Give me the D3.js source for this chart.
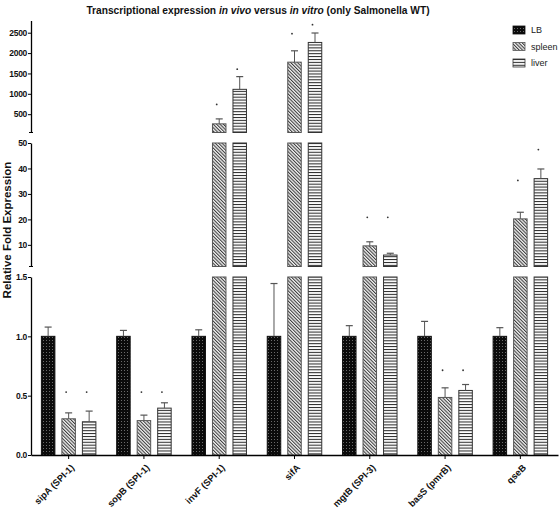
<!DOCTYPE html>
<html>
<head>
<meta charset="utf-8">
<script src="https://cdn.jsdelivr.net/npm/d3@7"></script>
<style>
  html, body { margin: 0; padding: 0; background: #fff; }
  svg { display: block; }
  text { font-family: "Liberation Sans", Arial, sans-serif; }
</style>
</head>
<body>
<svg id="chart" width="560" height="508"></svg>
<script>
// ---- data ----
const categories = ["sipA (SPI-1)", "sopB (SPI-1)", "invF (SPI-1)", "sifA", "mgtB (SPI-3)", "basS (pmrB)", "qseB"];
const seriesNames = ["LB", "spleen", "liver"];
const lbMean    = [1.0, 1.0, 1.0, 1.0, 1.0, 1.0, 1.0];
const lbErr     = [0.078, 0.05, 0.055, 0.445, 0.09, 0.126, 0.073];
const spleenMean = [0.305, 0.29, 262, 1777, 9.6, 0.485, 20.2];
const spleenErr  = [0.05, 0.046, 122, 279, 1.6, 0.081, 2.6];
const liverMean  = [0.28, 0.395, 1110, 2261, 6.0, 0.544, 36.0];
const liverErr   = [0.09, 0.045, 312, 232, 0.7, 0.05, 3.8];
// asterisk levels (data units) for spleen and liver
const spleenStar = [0.53, 0.53, 740, 2476, 20.8, 0.714, 35.3];
const liverStar  = [0.53, 0.53, 1604, 2698, 20.8, 0.714, 47.4];
const tickTop    = [500, 1000, 1500, 2000, 2500];
const tickMid    = [10, 20, 30, 40, 50];
const tickBottom = [0, 0.5, 1.0, 1.5];

// ---- layout ----
const svg = d3.select("#chart");
const defs = svg.append("defs");

// patterns
const pLB = defs.append("pattern").attr("id", "pLB").attr("patternUnits", "userSpaceOnUse").attr("width", 3).attr("height", 3);
pLB.append("rect").attr("width", 3).attr("height", 3).attr("fill", "#0b0b0b");
pLB.append("rect").attr("x", 1).attr("y", 1).attr("width", 1).attr("height", 1).attr("fill", "#6a6a6a");

const pSp = defs.append("pattern").attr("id", "pSpleen").attr("patternUnits", "userSpaceOnUse")
  .attr("width", 2.4).attr("height", 4).attr("patternTransform", "rotate(-45)");
pSp.append("rect").attr("width", 2.4).attr("height", 4).attr("fill", "#f2f2f2");
pSp.append("rect").attr("x", 0).attr("y", 0).attr("width", 1.05).attr("height", 4).attr("fill", "#3c3c3c");

const pLv = defs.append("pattern").attr("id", "pLiver").attr("patternUnits", "userSpaceOnUse").attr("width", 4).attr("height", 2.9);
pLv.append("rect").attr("width", 4).attr("height", 2.9).attr("fill", "#fff");
pLv.append("rect").attr("x", 0).attr("y", 1).attr("width", 4).attr("height", 1).attr("fill", "#222");

const fills = { LB: "url(#pLB)", spleen: "url(#pSpleen)", liver: "url(#pLiver)" };
const strokes = { LB: "#111", spleen: "#555", liver: "#333" };

// scales: broken y-axis in three segments
const segments = [
  { name: "top",    scale: d3.scaleLinear().domain([50, 2800]).range([132.5, 20.5]), ticks: tickTop, fmt: d3.format("d") },
  { name: "mid",    scale: d3.scaleLinear().domain([1.5, 50]).range([266.5, 143]), ticks: tickMid, fmt: d3.format("d") },
  { name: "bottom", scale: d3.scaleLinear().domain([0, 1.5]).range([455, 277]), ticks: tickBottom, fmt: d3.format(".1f") }
];
function segFor(v) {
  if (v > 50) return segments[0];
  if (v > 1.5) return segments[1];
  return segments[2];
}

const axisX = 31;
const x0 = d3.scaleBand().domain(categories).range([axisX, 558]).paddingInner(0).paddingOuter(0);
const x1 = d3.scaleBand().domain(seriesNames).range([-27.75, 27.75]).paddingInner(0.293).paddingOuter(0);

const data = categories.map((c, i) => ({
  cat: c,
  bars: [
    { s: "LB", v: lbMean[i], e: lbErr[i], star: null },
    { s: "spleen", v: spleenMean[i], e: spleenErr[i], star: spleenStar[i] },
    { s: "liver", v: liverMean[i], e: liverErr[i], star: liverStar[i] }
  ]
}));

// ---- bars ----
const gBars = svg.append("g");
data.forEach(d => {
  const cx = x0(d.cat) + x0.bandwidth() / 2;
  d.bars.forEach(b => {
    const bx = cx + x1(b.s);
    const bw = x1.bandwidth();
    segments.forEach(seg => {
      const [lo, hi] = seg.scale.domain();
      if (b.v > lo) {
        const yTop = seg.scale(Math.min(b.v, hi));
        const yBot = seg.scale(lo);
        gBars.append("rect")
          .attr("x", bx + 0.5).attr("y", yTop)
          .attr("width", bw - 1).attr("height", yBot - yTop)
          .attr("fill", fills[b.s]).attr("stroke", strokes[b.s]).attr("stroke-width", 1);
      }
    });
    // error bar (upper only)
    const seg = segFor(b.v);
    const top = b.v + b.e;
    const yv = seg.scale(b.v), ye = seg.scale(top);
    const ecx = bx + bw / 2;
    gBars.append("line").attr("x1", ecx).attr("x2", ecx).attr("y1", yv).attr("y2", ye)
      .attr("stroke", "#555").attr("stroke-width", 1);
    gBars.append("line").attr("x1", ecx - 3.5).attr("x2", ecx + 3.5).attr("y1", ye).attr("y2", ye)
      .attr("stroke", "#555").attr("stroke-width", 1.2);
    // asterisk
    if (b.star != null) {
      const sseg = segFor(b.star);
      gBars.append("circle").attr("cx", ecx - 2.5).attr("cy", sseg.scale(b.star)).attr("r", 0.9).attr("fill", "#333");
    }
  });
});

// ---- y axes ----
segments.forEach(seg => {
  const g = svg.append("g").attr("transform", `translate(${axisX},0)`)
    .call(d3.axisLeft(seg.scale).tickValues(seg.ticks).tickFormat(seg.fmt).tickSize(3).tickSizeOuter(0).tickPadding(1));
  g.select(".domain").attr("stroke", "#000").attr("stroke-width", 1.3);
  g.selectAll(".tick line").attr("stroke", "#000").attr("stroke-width", 1);
  g.selectAll(".tick text").attr("font-size", 8.5).attr("font-weight", "bold").attr("fill", "#111")
    .attr("letter-spacing", -0.3);
  const lo = seg.scale.domain()[0];
  if (seg.name !== "bottom") {
    g.append("line").attr("x1", -2).attr("x2", 2).attr("y1", seg.scale(lo)).attr("y2", seg.scale(lo))
      .attr("stroke", "#000").attr("stroke-width", 1);
  }
});

// ---- x axis ----
const gx = svg.append("g").attr("transform", "translate(0,455)")
  .call(d3.axisBottom(x0).tickSize(4).tickSizeOuter(0));
gx.select(".domain").attr("stroke", "#000").attr("stroke-width", 1.3);
gx.selectAll(".tick line").attr("stroke", "#000");
gx.selectAll(".tick text")
  .attr("font-size", 9.3).attr("font-weight", "bold").attr("fill", "#111")
  .attr("text-anchor", "end")
  .attr("transform", "translate(4,11) rotate(-45)")
  .attr("dy", "0.35em").attr("y", 0).attr("x", 0);

// ---- y label ----
svg.append("text")
  .attr("transform", "translate(11,230) rotate(-90)")
  .attr("text-anchor", "middle")
  .attr("font-size", 11.5).attr("font-weight", "bold").attr("fill", "#111")
  .text("Relative Fold Expression");

// ---- title ----
const title = svg.append("text").attr("x", 258).attr("y", 14).attr("text-anchor", "middle")
  .attr("font-size", 10.2).attr("font-weight", "bold").attr("fill", "#111");
title.append("tspan").text("Transcriptional expression ");
title.append("tspan").attr("font-style", "italic").text("in vivo");
title.append("tspan").text(" versus ");
title.append("tspan").attr("font-style", "italic").text("in vitro");
title.append("tspan").text(" (only Salmonella WT)");

// ---- legend ----
const legend = svg.append("g");
seriesNames.forEach((s, i) => {
  const y = 30 + i * 16.5;
  legend.append("rect").attr("x", 513).attr("y", y - 4).attr("width", 12).attr("height", 8)
    .attr("fill", fills[s]).attr("stroke", strokes[s]).attr("stroke-width", 0.8);
  legend.append("text").attr("x", 531).attr("y", y).attr("dy", "0.35em")
    .attr("font-size", 9).attr("fill", "#222")
    .text(s);
});
</script>
</body>
</html>
